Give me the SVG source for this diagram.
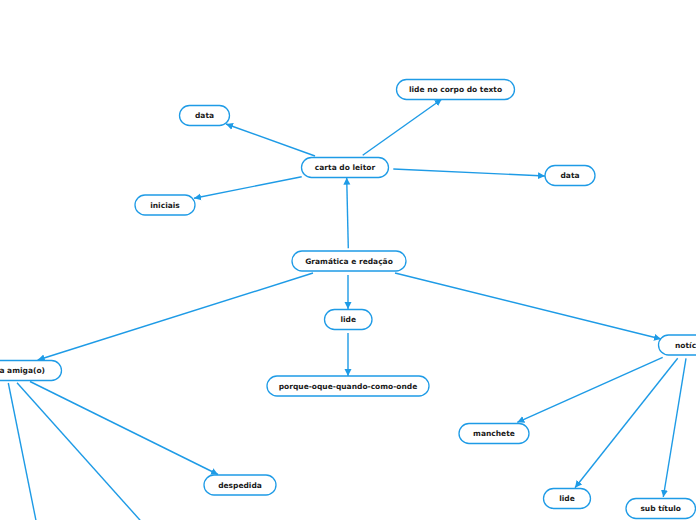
<svg xmlns="http://www.w3.org/2000/svg" width="696" height="520" viewBox="0 0 696 520">
<defs>
<marker id="ah" markerUnits="userSpaceOnUse" markerWidth="8" markerHeight="8" viewBox="0 0 8 8" refX="7" refY="4" orient="auto">
<path d="M0,0.5 L7,4 L0,7.5 Z" fill="#1e9be6"/>
</marker>
<style>
.n rect{fill:#fff;stroke:#1e9be6;stroke-width:1.3}
.n text{font-family:"DejaVu Sans",sans-serif;font-weight:bold;font-size:7.5px;fill:#1a1a1a;text-anchor:middle;dominant-baseline:central}
#edges line{stroke:#1e9be6;stroke-width:1.4;fill:none}
#edges line.a{marker-end:url(#ah)}
</style>
</defs>
<rect width="696" height="520" fill="#fff"/>
<g id="edges">
<line class="a" x1="348.3" y1="248.3" x2="346.7" y2="177.7"/>
<line class="a" x1="315" y1="156" x2="226" y2="124"/>
<line class="a" x1="362.7" y1="155.3" x2="441.7" y2="99.3"/>
<line class="a" x1="301.7" y1="176.7" x2="194" y2="198.3"/>
<line class="a" x1="393.3" y1="169" x2="545" y2="176"/>
<line class="a" x1="313" y1="273" x2="37.7" y2="360"/>
<line class="a" x1="348" y1="275" x2="348" y2="309"/>
<line class="a" x1="348" y1="333" x2="348" y2="376"/>
<line class="a" x1="395" y1="273" x2="661" y2="339"/>
<line class="a" x1="30" y1="381.5" x2="218" y2="474.5"/>
<line x1="17" y1="382.7" x2="141.7" y2="522"/>
<line x1="8.3" y1="383" x2="36.3" y2="522"/>
<line class="a" x1="662.7" y1="357.3" x2="517.3" y2="422.3"/>
<line class="a" x1="677.7" y1="358.3" x2="575" y2="487.7"/>
<line class="a" x1="686" y1="358.3" x2="663.3" y2="497"/>
</g>
<g id="n-gramatica" class="n"><rect x="292" y="251" width="114" height="20" rx="10"/><text x="349" y="261">Gramática e redação</text></g>
<g id="n-carta-leitor" class="n"><rect x="301.5" y="157.5" width="87" height="20" rx="10"/><text x="345" y="167.5">carta do leitor</text></g>
<g id="n-lide-corpo" class="n"><rect x="396.5" y="79.5" width="118" height="20" rx="10"/><text x="455.5" y="89.5">lide no corpo do texto</text></g>
<g id="n-data-1" class="n"><rect x="179.5" y="105.5" width="50" height="20" rx="10"/><text x="204.5" y="115.5">data</text></g>
<g id="n-iniciais" class="n"><rect x="135" y="195" width="60" height="20" rx="10"/><text x="165" y="205">iniciais</text></g>
<g id="n-data-2" class="n"><rect x="545" y="165.5" width="50" height="20" rx="10"/><text x="570" y="175.5">data</text></g>
<g id="n-lide-1" class="n"><rect x="324.5" y="309.5" width="47.5" height="20" rx="10"/><text x="348.2" y="319.5">lide</text></g>
<g id="n-porque" class="n"><rect x="267" y="376" width="162" height="20" rx="10"/><text x="348" y="386">porque-oque-quando-como-onde</text></g>
<g id="n-carta-amiga" class="n"><rect x="-60" y="360.5" width="121.5" height="20" rx="10"/><text x="45" y="370.5" style="text-anchor:end">carta para amiga(o)</text></g>
<g id="n-despedida" class="n"><rect x="204" y="475" width="72" height="20" rx="10"/><text x="240" y="485">despedida</text></g>
<g id="n-noticia" class="n"><rect x="658.5" y="335" width="70" height="20" rx="10"/><text x="675" y="345" style="text-anchor:start">notícia</text></g>
<g id="n-manchete" class="n"><rect x="459" y="423.5" width="70" height="20" rx="10"/><text x="494" y="433.5">manchete</text></g>
<g id="n-lide-2" class="n"><rect x="543.5" y="488.5" width="47" height="20" rx="10"/><text x="567" y="498.5">lide</text></g>
<g id="n-subtitulo" class="n"><rect x="626" y="498.5" width="69.5" height="20" rx="10"/><text x="660.7" y="508.5">sub título</text></g>
</svg>
